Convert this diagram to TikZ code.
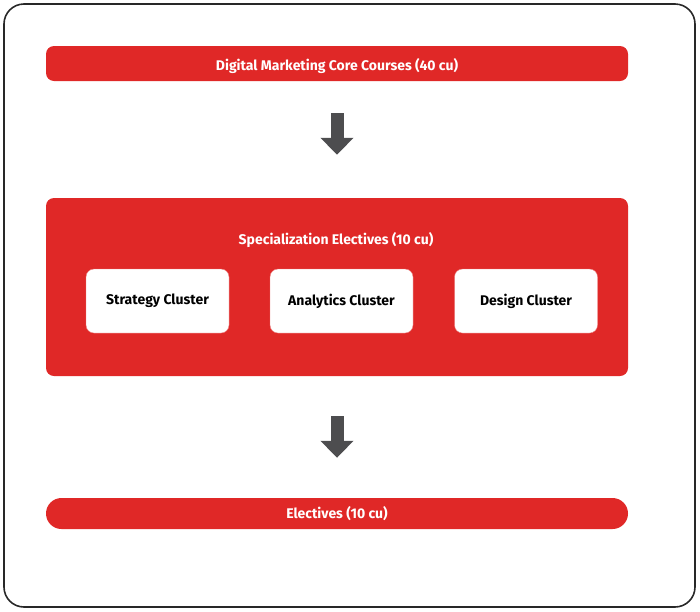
\documentclass[tikz,border=0pt]{standalone}
\usepackage{fontspec}
\setmainfont{Fira Sans}
\usepackage{tikz}
\usetikzlibrary{arrows.meta, positioning}
\definecolor{dmred}{RGB}{224, 40, 39}
\definecolor{dmgrey}{RGB}{77, 77, 79}
\definecolor{dmframe}{RGB}{40, 40, 40}

\begin{document}
\begin{tikzpicture}[
        x=1pt, y=-1pt,
        font=\bfseries\fontsize{14}{16}\selectfont,
        bar/.style={fill=dmred, text=white, rounded corners=8pt, minimum width=582pt, minimum height=35pt, align=center},
        panel/.style={fill=dmred, rounded corners=8pt, minimum width=582pt, minimum height=178pt},
        cluster/.style={fill=white, draw=dmred!60, rounded corners=8pt, minimum width=143pt, minimum height=64pt, align=center},
        arr/.style={-{Triangle[width=32pt, length=17pt]}, line width=13pt, dmgrey},
    ]
        \useasboundingbox (0,0) rectangle (700,611);
        % outer frame
        \draw[dmframe, line width=1.6pt, rounded corners=20pt] (4,4) rectangle (695,607);

        % top row: core courses
        \node[bar, text height=13pt, text depth=0pt] (core) at (337,63.5) {Digital Marketing Core Courses (40 cu)};

        % middle: specialization panel with its three clusters
        \node[panel] (spec) at (337,287) {};
        \node[text=white] (spectitle) at (336,240) {Specialization Electives (10 cu)};
        \node[cluster] (strategy)  at (157.5,301) {Strategy Cluster};
        \node[cluster] (analytics) at (341.5,301) {Analytics Cluster};
        \node[cluster] (design)    at (526,301)   {Design Cluster};

        % bottom row: free electives
        \node[bar, rounded corners=15.5pt, minimum height=31pt] (elect) at (337,513.5) {Electives (10 cu)};

        % arrows between the stages
        \draw[arr, shorten <=32pt, shorten >=43pt] (core.south) -- (spec.north);
        \draw[arr, shorten <=40pt, shorten >=40pt] (spec.south) -- (elect.north);
    \end{tikzpicture}
\end{document}
